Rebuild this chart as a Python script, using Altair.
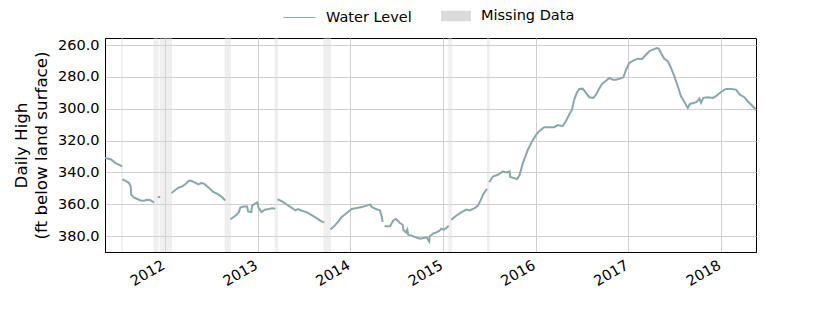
import altair as alt
import pandas as pd
from datetime import datetime

# ---------------- data ----------------
# Water level segments: decimal years and daily high (ft below land surface)
seg_years = [
    [2011.353, 2011.414, 2011.468, 2011.504, 2011.528],
    [2011.549, 2011.576, 2011.612, 2011.630, 2011.636, 2011.665, 2011.701, 2011.738,
     2011.773, 2011.809, 2011.838, 2011.863, 2011.874],
    [2011.934, 2011.938],
    [2012.079, 2012.115, 2012.151, 2012.187, 2012.223, 2012.259, 2012.284, 2012.320,
     2012.359, 2012.392, 2012.421, 2012.475, 2012.521, 2012.561, 2012.615, 2012.642],
    [2012.715, 2012.759, 2012.795, 2012.813, 2012.849, 2012.885, 2012.896, 2012.931,
     2012.939, 2012.968, 2012.993, 2013.011, 2013.039, 2013.076, 2013.119, 2013.155, 2013.179],
    [2013.222, 2013.263, 2013.317, 2013.370, 2013.406, 2013.435, 2013.478, 2013.532,
     2013.586, 2013.640, 2013.687, 2013.708],
    [2013.793, 2013.834, 2013.870, 2013.907, 2013.961, 2014.015, 2014.069, 2014.123,
     2014.177, 2014.212, 2014.231, 2014.266, 2014.320, 2014.338, 2014.347],
    [2014.379, 2014.428, 2014.464, 2014.493, 2014.536, 2014.565, 2014.572, 2014.601,
     2014.615, 2014.625, 2014.662, 2014.698, 2014.752, 2014.787, 2014.824, 2014.838,
     2014.852, 2014.856, 2014.892, 2014.928, 2014.964, 2014.982, 2015.011, 2015.036, 2015.054],
    [2015.099, 2015.143, 2015.197, 2015.251, 2015.288, 2015.342, 2015.378, 2015.407,
     2015.432, 2015.469],
    [2015.505, 2015.539, 2015.593, 2015.647, 2015.683, 2015.720, 2015.726, 2015.766,
     2015.802, 2015.828, 2015.863, 2015.917, 2015.971, 2016.007, 2016.039, 2016.093,
     2016.147, 2016.201, 2016.238, 2016.292, 2016.327, 2016.363, 2016.392, 2016.417,
     2016.443, 2016.471, 2016.507, 2016.543, 2016.579, 2016.622, 2016.651, 2016.680,
     2016.716, 2016.759, 2016.794, 2016.831, 2016.867, 2016.910, 2016.946, 2016.975,
     2017.010, 2017.053, 2017.101, 2017.147, 2017.190, 2017.226, 2017.263, 2017.306,
     2017.327, 2017.352, 2017.388, 2017.425, 2017.460, 2017.496, 2017.533, 2017.568,
     2017.604, 2017.640, 2017.665, 2017.701, 2017.738, 2017.766, 2017.784, 2017.809,
     2017.856, 2017.910, 2017.946, 2018.000, 2018.054, 2018.108, 2018.162, 2018.205,
     2018.252, 2018.288, 2018.324, 2018.378],
]
seg_levels = [
    [331.0, 331.7, 334.2, 335.2, 335.9],
    [344.6, 345.3, 346.7, 348.8, 354.0, 355.7, 356.7, 357.6, 357.8, 357.2, 357.4, 358.2, 358.6],
    [355.5, 355.5],
    [352.6, 350.9, 349.5, 348.8, 347.3, 345.3, 345.3, 346.3, 347.6, 346.7, 347.1, 349.8,
     352.2, 353.4, 355.5, 357.2],
    [369.1, 367.2, 365.1, 362.0, 361.4, 361.4, 364.5, 364.9, 360.9, 359.7, 358.9, 362.4,
     364.9, 363.4, 363.0, 362.6, 362.8],
    [357.2, 358.2, 360.3, 362.4, 363.9, 363.0, 364.1, 365.1, 367.0, 368.9, 370.8, 371.2],
    [375.4, 373.3, 370.8, 368.0, 365.5, 363.0, 362.4, 361.7, 360.9, 360.1, 361.7, 362.8,
     363.9, 367.7, 370.5],
    [373.9, 373.9, 370.2, 369.3, 371.8, 372.9, 376.0, 377.7, 376.0, 379.1, 379.7, 380.6,
     381.6, 381.2, 380.8, 382.3, 383.5, 380.2, 378.5, 377.7, 376.6, 375.4, 376.0, 374.9, 373.9],
    [369.3, 367.2, 365.1, 363.4, 363.9, 362.4, 360.9, 357.6, 354.0, 350.9],
    [345.7, 342.6, 341.5, 339.4, 340.1, 339.4, 342.9, 343.6, 344.2, 341.5, 334.2, 325.8,
     319.6, 316.3, 314.1, 311.6, 311.6, 311.6, 310.3, 311.0, 307.8, 303.7, 300.6, 294.3,
     290.1, 287.6, 287.4, 290.1, 292.8, 293.2, 291.2, 288.0, 284.4, 282.4, 280.7, 281.8,
     281.8, 281.1, 280.3, 275.5, 271.3, 269.8, 268.6, 268.8, 266.1, 263.9, 262.9, 261.9,
     262.3, 265.0, 268.6, 270.2, 274.4, 279.6, 285.9, 292.2, 295.7, 299.5, 297.0, 296.4,
     295.7, 293.6, 296.4, 293.2, 292.8, 293.2, 292.2, 289.5, 287.6, 287.6, 288.0, 291.2,
     292.8, 295.3, 297.4, 300.5],
]

# Missing data periods (decimal years)
gap_starts = [2011.529, 2011.876, 2011.942, 2012.644, 2013.182, 2013.710, 2015.057, 2015.475]
gap_ends = [2011.547, 2011.930, 2012.076, 2012.712, 2013.219, 2013.791, 2015.097, 2015.504]

x_range = [2011.353, 2018.378]
y_range = [255.6, 390.0]
y_ticks = [260, 280, 300, 320, 340, 360, 380]
x_tick_years = [2012, 2013, 2014, 2015, 2016, 2017, 2018]

LINE_COLOR = "#86a8ad"
GAP_COLOR = "#dadada"
FONT = "DejaVu Sans"
LABEL_SIZE = 14.5


def dec_to_iso(t):
    y = int(t)
    start = datetime(y, 1, 1)
    end = datetime(y + 1, 1, 1)
    d = start + (end - start) * (t - y)
    return d.strftime("%Y-%m-%dT%H:%M:%SZ")


rows = []
for i, (ys, vs) in enumerate(zip(seg_years, seg_levels)):
    for t, v in zip(ys, vs):
        rows.append({"date": dec_to_iso(t), "level": v, "seg": i, "series": "Water Level"})
line_df = pd.DataFrame(rows)

gap_df = pd.DataFrame({
    "date": [dec_to_iso(t) for t in gap_starts],
    "end": [dec_to_iso(t) for t in gap_ends],
    "series": ["Missing Data"] * len(gap_starts),
})

x_enc = alt.X(
    "date:T",
    title=None,
    scale=alt.Scale(type="utc", domain=[dec_to_iso(x_range[0]), dec_to_iso(x_range[1])], nice=False),
    axis=alt.Axis(
        values=[alt.DateTime(year=y, month=1, date=1, utc=True) for y in x_tick_years],
        format="%Y",
        labelAngle=-30,
        labelAlign="right",
        labelBaseline="top",
        labelPadding=6,
        labelOffset=-5,
        ticks=False,
        grid=True,
    ),
)

y_enc = alt.Y(
    "level:Q",
    title=["Daily High", "(ft below land surface)"],
    scale=alt.Scale(domain=y_range, reverse=True, nice=False, zero=False),
    axis=alt.Axis(values=y_ticks, format=".1f", grid=True, ticks=False,
                  labelPadding=6, titlePadding=7),
)

bands = alt.Chart(gap_df).mark_rect(opacity=0.42).encode(
    x=x_enc,
    x2="end:T",
    fill=alt.Fill(
        "series:N",
        scale=alt.Scale(domain=["Missing Data"], range=[GAP_COLOR]),
        legend=alt.Legend(
            orient="none", legendX=336, legendY=-37, title=None,
            symbolType="M-1,-0.35H1V0.35H-1Z", symbolSize=900,
            symbolOpacity=1, symbolStrokeWidth=0, labelOffset=10,
        ),
    ),
)

line = alt.Chart(line_df).mark_line(strokeWidth=2, strokeCap="square", clip=True).encode(
    x=x_enc,
    y=y_enc,
    detail="seg:N",
    stroke=alt.Stroke(
        "series:N",
        scale=alt.Scale(domain=["Water Level"], range=[LINE_COLOR]),
        legend=alt.Legend(
            orient="none", legendX=178, legendY=-37, title=None,
            symbolType="stroke", symbolSize=1024, symbolStrokeWidth=1,
            labelOffset=10,
        ),
    ),
)

chart = alt.layer(bands, line).properties(
    width=651,
    height=214,
    autosize=alt.AutoSizeParams(type="none"),
    padding={"left": 105, "top": 38, "right": 84, "bottom": 63},
    background="white",
).configure_view(
    stroke="black", strokeWidth=1,
).configure_axis(
    labelFont=FONT, labelFontSize=LABEL_SIZE, labelColor="black",
    titleFont=FONT, titleFontSize=16.7, titleColor="black", titleFontWeight="normal",
    titleLineHeight=20,
    domainColor="black",
    gridColor="#cfcfcf", gridWidth=1,
).configure_legend(
    labelFont=FONT, labelFontSize=LABEL_SIZE, labelColor="black",
)

chart.save("out.html", embed_options={"renderer": "svg", "actions": False})
